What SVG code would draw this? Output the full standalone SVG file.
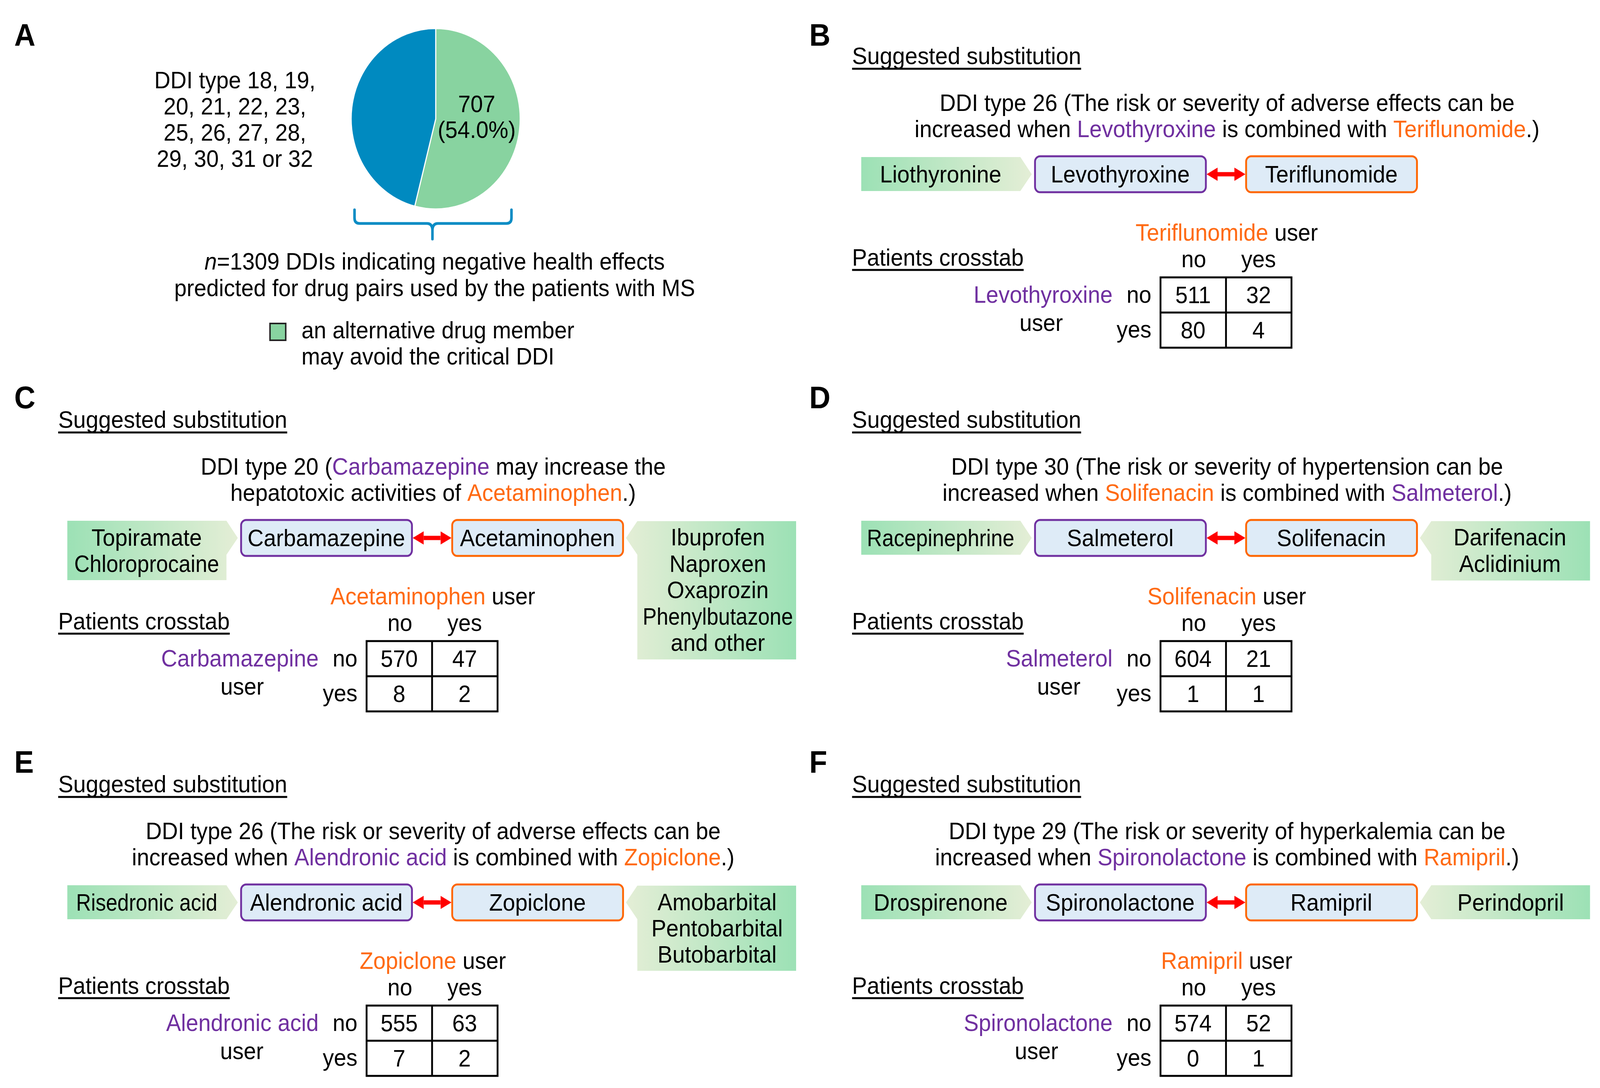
<svg xmlns="http://www.w3.org/2000/svg" width="4367" height="2785" viewBox="0 0 4367 2785">
<defs>
<style>
text{font-family:'Liberation Sans',Arial,sans-serif;font-size:61px;fill:#000}
.m{text-anchor:middle}
.e{text-anchor:end}
.p{fill:#7030A0}
.o{fill:#FF6A13}
.lbl{font-weight:bold;font-size:80px}
.box{fill:#DEEBF7;stroke-width:5}
.bp{stroke:#7030A0}
.bo{stroke:#FF6600}
.ul{stroke:#000;stroke-width:5}
.tbl{fill:none;stroke:#000;stroke-width:5}
.gl{fill:url(#gL)}
.gr{fill:url(#gR)}
.arr{stroke:#FF0000;stroke-width:11;fill:none;marker-start:url(#ah);marker-end:url(#ah)}
</style>
<linearGradient id="gL" x1="0" y1="0" x2="1" y2="0">
<stop offset="0" stop-color="#9CE1B5"/>
<stop offset="1" stop-color="#E4EED6"/>
</linearGradient>
<linearGradient id="gR" x1="0" y1="0" x2="1" y2="0">
<stop offset="0" stop-color="#E4EED6"/>
<stop offset="1" stop-color="#9CE1B5"/>
</linearGradient>
<marker id="ah" markerUnits="userSpaceOnUse" markerWidth="36" markerHeight="36" refX="0" refY="17" orient="auto-start-reverse">
<path d="M0,0 L30,17 L0,34 Z" fill="#FF0000"/>
</marker>
</defs>
<rect width="4367" height="2785" fill="#FFFFFF"/>
<g id="diagram" transform="scale(0.9366,1)">

<!-- Panel A -->
<g id="panelA">
<text class="lbl" x="39" y="117">A</text>
<g id="pie">
<path d="M1191,304 L1191,73 A231,231 0 1 1 1133.6,527.8 Z" fill="#88D3A0" stroke="#FFFFFF" stroke-width="3"/>
<path d="M1191,304 L1133.6,527.8 A231,231 0 0 1 1191,73 Z" fill="#008AC0" stroke="#FFFFFF" stroke-width="3"/>
<text class="m" x="1303" y="287">707</text>
<text class="m" x="1303" y="353">(54.0%)</text>
</g>
<g id="ddiTypes">
<text class="m" x="642" y="226">DDI type 18, 19,</text>
<text class="m" x="642" y="293">20, 21, 22, 23,</text>
<text class="m" x="642" y="360">25, 26, 27, 28,</text>
<text class="m" x="642" y="427">29, 30, 31 or 32</text>
</g>
<path id="brace" d="M969,537 L969,558 Q969,572 983,572 L1167,572 Q1182,572 1182,590 L1182,612 M1182,590 Q1182,572 1197,572 L1384,572 Q1398,572 1398,558 L1398,537" fill="none" stroke="#0B8CC4" stroke-width="7" stroke-linecap="round" stroke-linejoin="round"/>
<text class="m" x="1188" y="690"><tspan font-style="italic">n</tspan>=1309 DDIs indicating negative health effects</text>
<text class="m" x="1188" y="758">predicted for drug pairs used by the patients with MS</text>
<g id="legend">
<rect x="738" y="828" width="43" height="43" fill="#88D3A0" stroke="#222222" stroke-width="4"/>
<text x="824" y="866">an alternative drug member</text>
<text x="824" y="933">may avoid the critical DDI</text>
</g>
</g>

<!-- Panel B -->
<g id="panelB">
<text class="lbl" x="2212" y="117">B</text>
<text x="2329" y="164" textLength="626" lengthAdjust="spacingAndGlyphs">Suggested substitution</text>
<line class="ul" x1="2329" y1="176" x2="2955" y2="176"/>
<text class="m" x="3354" y="284">DDI type 26 (The risk or severity of adverse effects can be</text>
<text class="m" x="3354" y="351">increased when <tspan class="p">Levothyroxine</tspan> is combined with <tspan class="o">Teriflunomide</tspan>.)</text>
<g id="B_liothyronine">
<polygon class="gl" points="2354,402 2789,402 2820,446 2789,489 2354,489"/>
<text class="m" x="2571" y="467">Liothyronine</text>
</g>
<g id="B_levothyroxine">
<rect class="box bp" x="2829" y="400" width="467" height="92" rx="14"/>
<text class="m" x="3062" y="467">Levothyroxine</text>
</g>
<g id="B_teriflunomide">
<rect class="box bo" x="3406" y="400" width="467" height="92" rx="14"/>
<text class="m" x="3639" y="467">Teriflunomide</text>
</g>
<g id="B_crosstab">
<text class="m" x="3353" y="616"><tspan class="o">Teriflunomide</tspan> user</text>
<text x="2329" y="680" textLength="469" lengthAdjust="spacingAndGlyphs">Patients crosstab</text>
<line class="ul" x1="2329" y1="691" x2="2798" y2="691"/>
<text class="m" x="3263" y="684">no</text>
<text class="m" x="3440" y="684">yes</text>
<rect class="tbl" x="3172" y="710" width="358" height="180"/>
<line class="tbl" x1="3351" y1="710" x2="3351" y2="890"/>
<line class="tbl" x1="3172" y1="800" x2="3530" y2="800"/>
<text class="e p" x="3041" y="775">Levothyroxine</text>
<text class="m" x="2846" y="847">user</text>
<text class="e" x="3147" y="775">no</text>
<text class="e" x="3147" y="864">yes</text>
<text class="m" x="3261" y="776">511</text>
<text class="m" x="3440" y="776">32</text>
<text class="m" x="3261" y="866">80</text>
<text class="m" x="3440" y="866">4</text>
</g>
</g>

<!-- Panel C -->
<g id="panelC">
<text class="lbl" x="39" y="1045">C</text>
<text x="159" y="1095" textLength="626" lengthAdjust="spacingAndGlyphs">Suggested substitution</text>
<line class="ul" x1="159" y1="1107" x2="785" y2="1107"/>
<text class="m" x="1184" y="1215">DDI type 20 (<tspan class="p">Carbamazepine</tspan> may increase the</text>
<text class="m" x="1184" y="1282">hepatotoxic activities of <tspan class="o">Acetaminophen</tspan>.)</text>
<g id="C_alt_left">
<polygon class="gl" points="184,1333 619,1333 650,1377 619,1420 619,1485 184,1485"/>
<text class="m" x="401" y="1397">Topiramate</text>
<text class="m" x="401" y="1464" textLength="396" lengthAdjust="spacingAndGlyphs">Chloroprocaine</text>
</g>
<g id="C_carbamazepine">
<rect class="box bp" x="659" y="1331" width="467" height="92" rx="14"/>
<text class="m" x="892" y="1398">Carbamazepine</text>
</g>
<g id="C_acetaminophen">
<rect class="box bo" x="1236" y="1331" width="467" height="92" rx="14"/>
<text class="m" x="1469" y="1398">Acetaminophen</text>
</g>
<g id="C_alt_right">
<polygon class="gr" points="1711,1377 1742,1334 2176,1334 2176,1688 1742,1688 1742,1420"/>
<text class="m" x="1962" y="1396">Ibuprofen</text>
<text class="m" x="1962" y="1464">Naproxen</text>
<text class="m" x="1962" y="1531">Oxaprozin</text>
<text class="m" x="1962" y="1599" textLength="411" lengthAdjust="spacingAndGlyphs">Phenylbutazone</text>
<text class="m" x="1962" y="1666">and other</text>
</g>
<g id="C_crosstab">
<text class="m" x="1183" y="1547"><tspan class="o">Acetaminophen</tspan> user</text>
<text x="159" y="1611" textLength="469" lengthAdjust="spacingAndGlyphs">Patients crosstab</text>
<line class="ul" x1="159" y1="1622" x2="628" y2="1622"/>
<text class="m" x="1093" y="1615">no</text>
<text class="m" x="1270" y="1615">yes</text>
<rect class="tbl" x="1002" y="1641" width="358" height="180"/>
<line class="tbl" x1="1181" y1="1641" x2="1181" y2="1821"/>
<line class="tbl" x1="1002" y1="1731" x2="1360" y2="1731"/>
<text class="e p" x="871" y="1706">Carbamazepine</text>
<text class="m" x="662" y="1778">user</text>
<text class="e" x="977" y="1706">no</text>
<text class="e" x="977" y="1795">yes</text>
<text class="m" x="1091" y="1707">570</text>
<text class="m" x="1270" y="1707">47</text>
<text class="m" x="1091" y="1797">8</text>
<text class="m" x="1270" y="1797">2</text>
</g>
</g>

<!-- Panel D -->
<g id="panelD">
<text class="lbl" x="2212" y="1045">D</text>
<text x="2329" y="1095" textLength="626" lengthAdjust="spacingAndGlyphs">Suggested substitution</text>
<line class="ul" x1="2329" y1="1107" x2="2955" y2="1107"/>
<text class="m" x="3354" y="1215">DDI type 30 (The risk or severity of hypertension can be</text>
<text class="m" x="3354" y="1282">increased when <tspan class="o">Solifenacin</tspan> is combined with <tspan class="p">Salmeterol</tspan>.)</text>
<g id="D_alt_left">
<polygon class="gl" points="2354,1333 2789,1333 2820,1377 2789,1420 2354,1420"/>
<text class="m" x="2571" y="1398" textLength="403" lengthAdjust="spacingAndGlyphs">Racepinephrine</text>
</g>
<g id="D_salmeterol">
<rect class="box bp" x="2829" y="1331" width="467" height="92" rx="14"/>
<text class="m" x="3062" y="1398">Salmeterol</text>
</g>
<g id="D_solifenacin">
<rect class="box bo" x="3406" y="1331" width="467" height="92" rx="14"/>
<text class="m" x="3639" y="1398">Solifenacin</text>
</g>
<g id="D_alt_right">
<polygon class="gr" points="3881,1377 3912,1334 4346,1334 4346,1486 3912,1486 3912,1420"/>
<text class="m" x="4127" y="1396">Darifenacin</text>
<text class="m" x="4127" y="1464">Aclidinium</text>
</g>
<g id="D_crosstab">
<text class="m" x="3353" y="1547"><tspan class="o">Solifenacin</tspan> user</text>
<text x="2329" y="1611" textLength="469" lengthAdjust="spacingAndGlyphs">Patients crosstab</text>
<line class="ul" x1="2329" y1="1622" x2="2798" y2="1622"/>
<text class="m" x="3263" y="1615">no</text>
<text class="m" x="3440" y="1615">yes</text>
<rect class="tbl" x="3172" y="1641" width="358" height="180"/>
<line class="tbl" x1="3351" y1="1641" x2="3351" y2="1821"/>
<line class="tbl" x1="3172" y1="1731" x2="3530" y2="1731"/>
<text class="e p" x="3041" y="1706">Salmeterol</text>
<text class="m" x="2894" y="1778">user</text>
<text class="e" x="3147" y="1706">no</text>
<text class="e" x="3147" y="1795">yes</text>
<text class="m" x="3261" y="1707">604</text>
<text class="m" x="3440" y="1707">21</text>
<text class="m" x="3261" y="1797">1</text>
<text class="m" x="3440" y="1797">1</text>
</g>
</g>

<!-- Panel E -->
<g id="panelE">
<text class="lbl" x="39" y="1978">E</text>
<text x="159" y="2028" textLength="626" lengthAdjust="spacingAndGlyphs">Suggested substitution</text>
<line class="ul" x1="159" y1="2040" x2="785" y2="2040"/>
<text class="m" x="1184" y="2148">DDI type 26 (The risk or severity of adverse effects can be</text>
<text class="m" x="1184" y="2215">increased when <tspan class="p">Alendronic acid</tspan> is combined with <tspan class="o">Zopiclone</tspan>.)</text>
<g id="E_alt_left">
<polygon class="gl" points="184,2266 619,2266 650,2310 619,2353 184,2353"/>
<text class="m" x="401" y="2331" textLength="386" lengthAdjust="spacingAndGlyphs">Risedronic acid</text>
</g>
<g id="E_alendronic">
<rect class="box bp" x="659" y="2264" width="467" height="92" rx="14"/>
<text class="m" x="892" y="2331">Alendronic acid</text>
</g>
<g id="E_zopiclone">
<rect class="box bo" x="1236" y="2264" width="467" height="92" rx="14"/>
<text class="m" x="1469" y="2331">Zopiclone</text>
</g>
<g id="E_alt_right">
<polygon class="gr" points="1711,2310 1742,2267 2176,2267 2176,2485 1742,2485 1742,2353"/>
<text class="m" x="1960" y="2330">Amobarbital</text>
<text class="m" x="1960" y="2397">Pentobarbital</text>
<text class="m" x="1960" y="2464">Butobarbital</text>
</g>
<g id="E_crosstab">
<text class="m" x="1183" y="2480"><tspan class="o">Zopiclone</tspan> user</text>
<text x="159" y="2544" textLength="469" lengthAdjust="spacingAndGlyphs">Patients crosstab</text>
<line class="ul" x1="159" y1="2555" x2="628" y2="2555"/>
<text class="m" x="1093" y="2548">no</text>
<text class="m" x="1270" y="2548">yes</text>
<rect class="tbl" x="1002" y="2574" width="358" height="180"/>
<line class="tbl" x1="1181" y1="2574" x2="1181" y2="2754"/>
<line class="tbl" x1="1002" y1="2664" x2="1360" y2="2664"/>
<text class="e p" x="871" y="2639">Alendronic acid</text>
<text class="m" x="661" y="2711">user</text>
<text class="e" x="977" y="2639">no</text>
<text class="e" x="977" y="2728">yes</text>
<text class="m" x="1091" y="2640">555</text>
<text class="m" x="1270" y="2640">63</text>
<text class="m" x="1091" y="2730">7</text>
<text class="m" x="1270" y="2730">2</text>
</g>
</g>

<!-- Panel F -->
<g id="panelF">
<text class="lbl" x="2212" y="1978">F</text>
<text x="2329" y="2028" textLength="626" lengthAdjust="spacingAndGlyphs">Suggested substitution</text>
<line class="ul" x1="2329" y1="2040" x2="2955" y2="2040"/>
<text class="m" x="3354" y="2148">DDI type 29 (The risk or severity of hyperkalemia can be</text>
<text class="m" x="3354" y="2215">increased when <tspan class="p">Spironolactone</tspan> is combined with <tspan class="o">Ramipril</tspan>.)</text>
<g id="F_alt_left">
<polygon class="gl" points="2354,2266 2789,2266 2820,2310 2789,2353 2354,2353"/>
<text class="m" x="2571" y="2331">Drospirenone</text>
</g>
<g id="F_spironolactone">
<rect class="box bp" x="2829" y="2264" width="467" height="92" rx="14"/>
<text class="m" x="3062" y="2331">Spironolactone</text>
</g>
<g id="F_ramipril">
<rect class="box bo" x="3406" y="2264" width="467" height="92" rx="14"/>
<text class="m" x="3639" y="2331">Ramipril</text>
</g>
<g id="F_alt_right">
<polygon class="gr" points="3881,2310 3912,2266 4346,2266 4346,2353 3912,2353"/>
<text class="m" x="4129" y="2331">Perindopril</text>
</g>
<g id="F_crosstab">
<text class="m" x="3353" y="2480"><tspan class="o">Ramipril</tspan> user</text>
<text x="2329" y="2544" textLength="469" lengthAdjust="spacingAndGlyphs">Patients crosstab</text>
<line class="ul" x1="2329" y1="2555" x2="2798" y2="2555"/>
<text class="m" x="3263" y="2548">no</text>
<text class="m" x="3440" y="2548">yes</text>
<rect class="tbl" x="3172" y="2574" width="358" height="180"/>
<line class="tbl" x1="3351" y1="2574" x2="3351" y2="2754"/>
<line class="tbl" x1="3172" y1="2664" x2="3530" y2="2664"/>
<text class="e p" x="3041" y="2639">Spironolactone</text>
<text class="m" x="2833" y="2711">user</text>
<text class="e" x="3147" y="2639">no</text>
<text class="e" x="3147" y="2728">yes</text>
<text class="m" x="3261" y="2640">574</text>
<text class="m" x="3440" y="2640">52</text>
<text class="m" x="3261" y="2730">0</text>
<text class="m" x="3440" y="2730">1</text>
</g>
</g>

<!-- Connectors -->
<g id="connectors">
<line class="arr" x1="3328" y1="446" x2="3374" y2="446"/>
<line class="arr" x1="1158" y1="1377" x2="1204" y2="1377"/>
<line class="arr" x1="3328" y1="1377" x2="3374" y2="1377"/>
<line class="arr" x1="1158" y1="2310" x2="1204" y2="2310"/>
<line class="arr" x1="3328" y1="2310" x2="3374" y2="2310"/>
</g>
</g>
</svg>
